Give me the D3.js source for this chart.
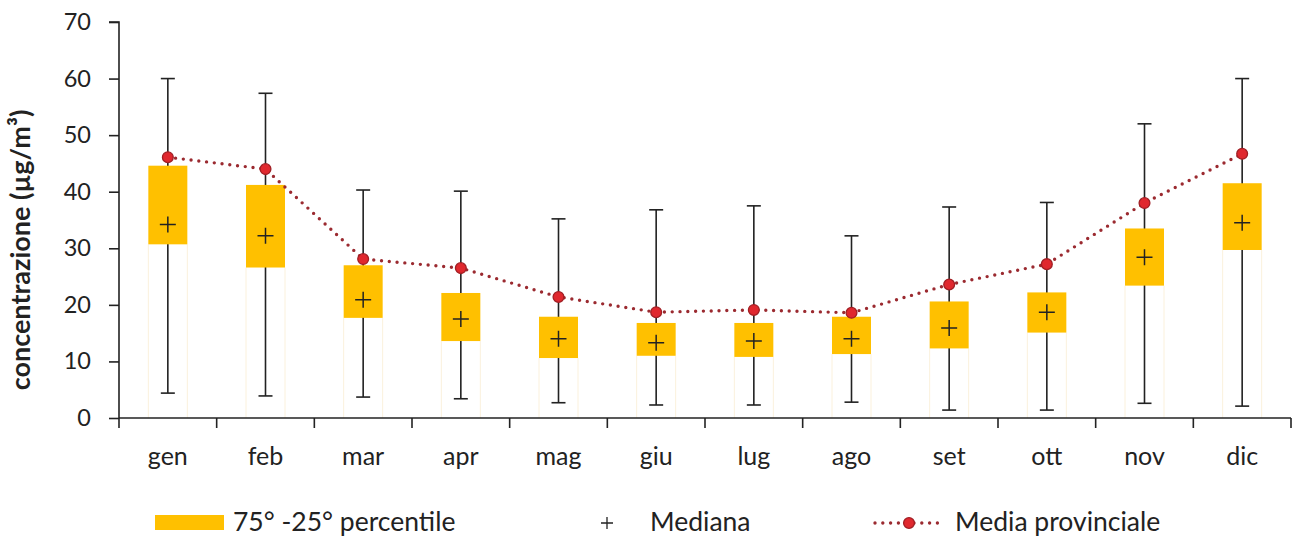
<!DOCTYPE html>
<html>
<head>
<meta charset="utf-8">
<script src="https://cdn.jsdelivr.net/npm/d3@7"></script>
<style>
  html, body { margin: 0; padding: 0; background: #fff; }
  svg { display: block; font-family: "Lato", "Open Sans", sans-serif; }
</style>
</head>
<body>
<svg id="chart" width="1294" height="540"></svg>
<script>
// Monthly distribution of concentrations
const months = ["gen", "feb", "mar", "apr", "mag", "giu", "lug", "ago", "set", "ott", "nov", "dic"];
const whiskerMax = [60.0, 57.4, 40.3, 40.1, 35.2, 36.8, 37.5, 32.2, 37.3, 38.1, 52.0, 60.0];
const whiskerMin = [4.4, 3.9, 3.7, 3.4, 2.7, 2.3, 2.3, 2.8, 1.4, 1.4, 2.6, 2.1];
const p75 = [44.6, 41.2, 27.0, 22.1, 17.9, 16.8, 16.8, 17.9, 20.6, 22.2, 33.5, 41.5];
const p25 = [30.7, 26.6, 17.7, 13.6, 10.6, 11.0, 10.8, 11.3, 12.3, 15.1, 23.4, 29.7];
const median = [34.2, 32.2, 20.9, 17.5, 14.0, 13.3, 13.6, 14.0, 15.9, 18.7, 28.4, 34.5];
const mean = [46.1, 44.0, 28.1, 26.5, 21.4, 18.7, 19.1, 18.6, 23.6, 27.2, 38.0, 46.7];
const yTicks = [0, 10, 20, 30, 40, 50, 60, 70];

const rows = months.map((m, i) => ({
  m, hi: whiskerMax[i], lo: whiskerMin[i], q3: p75[i], q1: p25[i], med: median[i], avg: mean[i]
}));

const svg = d3.select("#chart");
const plotL = 119, plotR = 1291, plotT = 22, plotB = 418;

const x = d3.scaleBand().domain(months).range([plotL, plotR]).paddingInner(0).paddingOuter(0);
const y = d3.scaleLinear().domain([0, 70]).range([plotB, plotT]);

const boxW = 39, capW = 14, plus = 8;
const cx = d => x(d.m) + x.bandwidth() / 2;
const axisColor = "#222";
const textColor = "#222";
const boxColor = "#ffc000";

// faint outline of the lower, unfilled part of each box
const g = svg.append("g");
g.selectAll("line.ghostL").data(rows).join("line")
  .attr("x1", d => cx(d) - boxW / 2).attr("x2", d => cx(d) - boxW / 2)
  .attr("y1", d => y(d.q1)).attr("y2", y(0))
  .attr("stroke", "#fbf1dc").attr("stroke-width", 1);
g.selectAll("line.ghostR").data(rows).join("line")
  .attr("x1", d => cx(d) + boxW / 2).attr("x2", d => cx(d) + boxW / 2)
  .attr("y1", d => y(d.q1)).attr("y2", y(0))
  .attr("stroke", "#fbf1dc").attr("stroke-width", 1);

// whiskers
g.selectAll("line.whisk").data(rows).join("line")
  .attr("x1", cx).attr("x2", cx)
  .attr("y1", d => y(d.hi)).attr("y2", d => y(d.lo))
  .attr("stroke", axisColor).attr("stroke-width", 1.6);
g.selectAll("line.capHi").data(rows).join("line")
  .attr("x1", d => cx(d) - capW / 2).attr("x2", d => cx(d) + capW / 2)
  .attr("y1", d => y(d.hi)).attr("y2", d => y(d.hi))
  .attr("stroke", axisColor).attr("stroke-width", 1.6);
g.selectAll("line.capLo").data(rows).join("line")
  .attr("x1", d => cx(d) - capW / 2).attr("x2", d => cx(d) + capW / 2)
  .attr("y1", d => y(d.lo)).attr("y2", d => y(d.lo))
  .attr("stroke", axisColor).attr("stroke-width", 1.6);

// 25th-75th percentile boxes
g.selectAll("rect.box").data(rows).join("rect")
  .attr("x", d => cx(d) - boxW / 2).attr("width", boxW)
  .attr("y", d => y(d.q3)).attr("height", d => y(d.q1) - y(d.q3))
  .attr("fill", boxColor);

// medians
g.selectAll("path.med").data(rows).join("path")
  .attr("d", d => `M${cx(d) - plus},${y(d.med)}H${cx(d) + plus}M${cx(d)},${y(d.med) - plus}V${y(d.med) + plus}`)
  .attr("stroke", "#222").attr("stroke-width", 1.5).attr("fill", "none");

// mean line
const line = d3.line().x(cx).y(d => y(d.avg));
g.append("path").datum(rows)
  .attr("d", line)
  .attr("fill", "none").attr("stroke", "#9b2a30").attr("stroke-width", 3.4)
  .attr("stroke-dasharray", "0 7.8").attr("stroke-linecap", "round");
g.selectAll("circle.avg").data(rows).join("circle")
  .attr("cx", cx).attr("cy", d => y(d.avg)).attr("r", 5.4)
  .attr("fill", "#e0282e").attr("stroke", "#a01f24").attr("stroke-width", 1.3);

// axes
const yAxis = d3.axisLeft(y).tickValues(yTicks).tickSize(10).tickPadding(18).tickFormat(d3.format("d"));
const ya = svg.append("g").attr("transform", `translate(${plotL},0)`).call(yAxis);
ya.select(".domain").attr("d", `M-10,${plotT}H0V${plotB}`).attr("stroke", axisColor).attr("stroke-width", 1.6);
ya.selectAll(".tick line").attr("stroke", axisColor).attr("stroke-width", 1.6);
ya.selectAll(".tick text").attr("font-size", 23.5).attr("fill", textColor).attr("font-family", "Lato, sans-serif");

const xAxis = d3.axisBottom(x).tickSize(0).tickPadding(29);
const xa = svg.append("g").attr("transform", `translate(0,${plotB})`).call(xAxis);
xa.select(".domain").attr("d", `M${plotL},0H${plotR}`).attr("stroke", axisColor).attr("stroke-width", 1.6);
xa.selectAll(".tick text").attr("font-size", 25).attr("fill", textColor).attr("font-family", "Lato, sans-serif");
// category boundary ticks
svg.append("g").selectAll("line").data(d3.range(months.length + 1)).join("line")
  .attr("x1", i => plotL + i * x.step()).attr("x2", i => plotL + i * x.step())
  .attr("y1", plotB).attr("y2", plotB + 10)
  .attr("stroke", axisColor).attr("stroke-width", 1.6);

// y axis title
svg.append("text")
  .attr("transform", `translate(30,250) rotate(-90)`)
  .attr("text-anchor", "middle")
  .attr("font-size", 27).attr("font-weight", "bold").attr("fill", textColor)
  .text("concentrazione (µg/m³)");

// legend
const leg = svg.append("g");
const ly = 523;
leg.append("rect").attr("x", 155).attr("y", ly - 8).attr("width", 69).attr("height", 15).attr("fill", boxColor);
leg.append("text").attr("x", 233).attr("y", ly + 8).attr("font-size", 26.5).attr("fill", textColor).text("75° -25° percentile");
leg.append("path").attr("d", `M${607 - 6},${ly}H${607 + 6}M607,${ly - 6}V${ly + 6}`).attr("stroke", "#222").attr("stroke-width", 1.3);
leg.append("text").attr("x", 650).attr("y", ly + 8).attr("font-size", 26.5).attr("fill", textColor).text("Mediana");
leg.append("path").attr("d", `M875,${ly}H945`).attr("stroke", "#9b2a30").attr("stroke-width", 3.4)
  .attr("stroke-dasharray", "0 7.8").attr("stroke-linecap", "round");
leg.append("circle").attr("cx", 909).attr("cy", ly).attr("r", 5.4).attr("fill", "#e0282e").attr("stroke", "#a01f24").attr("stroke-width", 1.3);
leg.append("text").attr("x", 955).attr("y", ly + 8).attr("font-size", 26.5).attr("fill", textColor).text("Media provinciale");
</script>
</body>
</html>
